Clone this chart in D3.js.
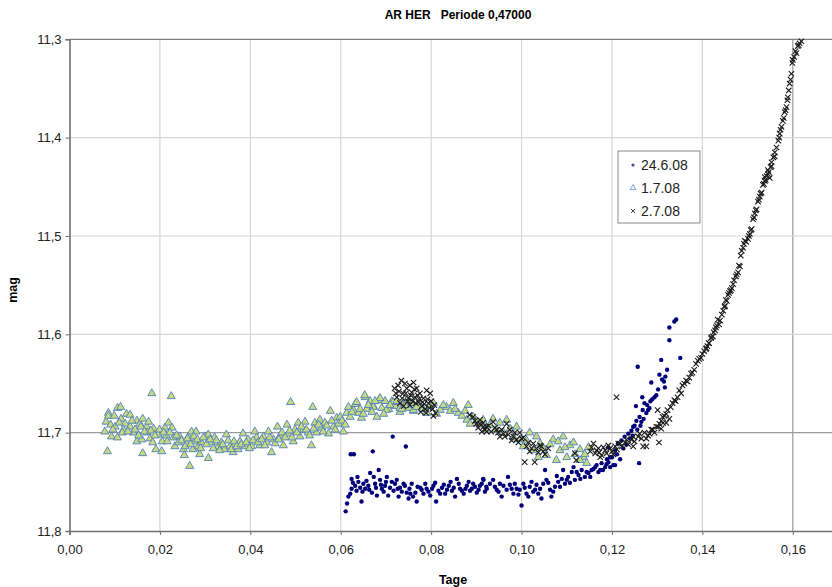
<!DOCTYPE html>
<html>
<head>
<meta charset="utf-8">
<script src="https://cdn.jsdelivr.net/npm/d3@7"></script>
<style>
  body { margin: 0; background: #fff; }
  text { font-family: "Liberation Sans", Arial, sans-serif; }
</style>
</head>
<body>
<svg id="chart" width="832" height="587"></svg>
<script>
// series 24.6.08  [Tage, mag]
const s246 = [
  [.0611,11.780],[.0614,11.772],[.0617,11.765],[.0621,11.762],[.0624,11.757],[.0624,11.747],[.0622,11.722],[.0629,11.722],
  [.0632,11.754],[.0635,11.759],[.0639,11.750],[.0643,11.756],[.0646,11.770],[.0650,11.752],[.0654,11.757],[.0661,11.754],
  [.0665,11.741],[.0669,11.761],[.0671,11.719],[.0676,11.752],[.0680,11.764],[.0684,11.738],[.0687,11.748],[.0691,11.757],
  [.0698,11.754],[.0702,11.745],[.0705,11.764],[.0713,11.750],[.0715,11.704],[.0717,11.759],[.0724,11.748],[.0728,11.765],
  [.0731,11.756],[.0739,11.752],[.0744,11.714],[.0746,11.761],[.0750,11.767],[.0754,11.762],[.0757,11.752],[.0765,11.761],
  [.0768,11.770],[.0776,11.756],[.0783,11.762],[.0790,11.757],[.0798,11.764],[.0805,11.754],[.0811,11.770],[.0816,11.759],
  [.0824,11.756],[.0831,11.762],[.0839,11.754],[.0846,11.759],[.0853,11.765],[.0857,11.747],[.0864,11.757],[.0872,11.762],
  [.0879,11.754],[.0886,11.759],[.0893,11.752],[.0901,11.761],[.0908,11.754],[.0916,11.748],[.0923,11.757],
  [.0915,11.747],[.0922,11.755],[.0937,11.748],[.0945,11.758],[.0952,11.752],[.0956,11.765],[.0967,11.758],[.0970,11.745],
  [.0974,11.753],[.0982,11.762],[.0989,11.757],[.0996,11.758],[.1000,11.774],[.1004,11.752],[.1011,11.762],[.1018,11.755],
  [.1026,11.760],[.1033,11.753],[.1041,11.757],[.1044,11.767],[.1052,11.738],[.1055,11.748],[.1063,11.758],[.1066,11.765],
  [.1074,11.755],[.1081,11.750],[.1089,11.747],[.1096,11.752],[.1103,11.745],[.1111,11.740],[.1118,11.748],[.1126,11.743],
  [.1133,11.738],[.1140,11.745],[.1148,11.741],[.1155,11.738],[.1163,11.735],[.1170,11.740],[.1177,11.731],[.1185,11.735],
  [.1192,11.730],[.1200,11.725],[.1207,11.733],[.1115,11.735],[.1092,11.738],
  [.1180,11.738],[.1188,11.732],[.1196,11.725],[.1203,11.733],[.1192,11.715],[.1207,11.718],[.1213,11.711],[.1221,11.708],
  [.1228,11.704],[.1236,11.701],[.1243,11.698],[.1247,11.694],[.1250,11.693],[.1254,11.688],[.1260,11.731],[.1257,11.633],
  [.1261,11.684],[.1265,11.689],[.1268,11.677],[.1272,11.670],[.1253,11.673],[.1267,11.664],[.1276,11.680],[.1280,11.677],
  [.1283,11.675],[.1287,11.649],[.1289,11.666],[.1294,11.664],[.1298,11.662],[.1302,11.656],[.1305,11.641],[.1309,11.626],
  [.1311,11.646],[.1315,11.648],[.1317,11.654],[.1318,11.643],[.1322,11.636],[.1327,11.606],[.1327,11.593],[.1338,11.587],
  [.1342,11.585],[.1351,11.624],
  [.0627,11.751],[.0637,11.745],[.0648,11.760],[.0657,11.749],[.0663,11.758],[.0673,11.745],[.0678,11.756],[.0689,11.753],
  [.0695,11.760],[.0700,11.750],[.0709,11.756],[.0720,11.752],[.0726,11.757],[.0735,11.760],[.0742,11.754],[.0752,11.757],
  [.0760,11.765],[.0770,11.755],[.0779,11.758],[.0787,11.752],[.0794,11.760],[.0802,11.757],[.0809,11.751],[.0820,11.762],
  [.0828,11.753],[.0835,11.758],[.0843,11.750],[.0850,11.756],[.0861,11.752],[.0868,11.759],[.0876,11.757],[.0883,11.750],
  [.0890,11.757],[.0897,11.755],[.0905,11.758],[.0912,11.752],[.0919,11.760],[.0930,11.752],[.0941,11.755],[.0949,11.760],
  [.0960,11.754],[.0978,11.757],[.0985,11.752],[.0993,11.763],[.1007,11.756],[.1015,11.765],[.1022,11.750],[.1030,11.758],
  [.1037,11.762],[.1048,11.752],[.1059,11.751],[.1070,11.760],[.1078,11.744],[.1085,11.755],[.1100,11.748],[.1107,11.751],
  [.1122,11.740],[.1130,11.747],[.1144,11.740],[.1152,11.745],[.1159,11.737],[.1166,11.733],[.1174,11.738],[.1189,11.727],
  [.1196,11.735],[.1211,11.722],[.1218,11.727],[.1225,11.716],[.1232,11.712],[.1240,11.706],[.1246,11.703],[.1256,11.697],
  [.1263,11.693],[.1270,11.686],[.1278,11.672],[.1285,11.668]
];

// series 1.7.08
const s17 = [
  [.0081,11.689],[.0078,11.699],[.0084,11.719],[.0086,11.680],[.0086,11.683],[.0091,11.692],[.0093,11.704],[.0099,11.683],
  [.0101,11.694],[.0106,11.675],[.0106,11.705],[.0113,11.674],[.0114,11.686],[.0119,11.697],[.0123,11.691],[.0126,11.681],
  [.0134,11.682],[.0134,11.694],[.0141,11.700],[.0149,11.709],[.0149,11.688],[.0156,11.691],[.0160,11.707],[.0162,11.721],
  [.0162,11.686],[.0171,11.694],[.0172,11.700],[.0182,11.660],[.0178,11.706],[.0184,11.710],[.0186,11.696],[.0191,11.717],
  [.0196,11.702],[.0204,11.719],[.0205,11.709],[.0211,11.695],[.0214,11.703],[.0219,11.690],[.0225,11.663],[.0227,11.695],
  [.0230,11.705],[.0233,11.714],[.0241,11.710],[.0244,11.704],[.0252,11.717],[.0254,11.723],[.0259,11.711],[.0263,11.704],
  [.0266,11.734],[.0270,11.699],[.0273,11.717],[.0277,11.709],[.0280,11.699],[.0285,11.714],[.0288,11.722],[.0292,11.710],
  [.0300,11.704],[.0307,11.726],[.0307,11.702],[.0314,11.710],[.0321,11.705],[.0329,11.714],[.0336,11.710],[.0343,11.717],
  [.0347,11.702],[.0355,11.714],[.0362,11.720],[.0366,11.712],[.0373,11.717],[.0377,11.709],[.0384,11.701],[.0388,11.714],
  [.0395,11.707],[.0403,11.714],[.0410,11.699],[.0414,11.705],[.0421,11.713],[.0429,11.704],[.0436,11.710],[.0440,11.699],
  [.0447,11.720],[.0451,11.707],[.0460,11.694],[.0466,11.703],[.0473,11.713],[.0481,11.692],[.0484,11.701],[.0489,11.669],
  [.0495,11.709],[.0499,11.697],[.0506,11.690],[.0510,11.704],[.0517,11.697],[.0521,11.689],[.0528,11.700],[.0535,11.713],
  [.0538,11.674],[.0543,11.690],[.0547,11.700],[.0554,11.687],[.0558,11.695],[.0565,11.690],[.0573,11.701],[.0577,11.678],
  [.0584,11.694],[.0591,11.685],[.0599,11.684],[.0606,11.699],[.0613,11.680],[.0617,11.674],[.0628,11.677],[.0632,11.671],
  [.0639,11.680],[.0646,11.685],[.0654,11.664],[.0658,11.676],[.0665,11.668],[.0672,11.673],[.0680,11.684],[.0684,11.667],
  [.0691,11.675],[.0698,11.668],[.0706,11.676],[.0713,11.668],[.0720,11.673],[.0731,11.679],[.0739,11.670],[.0750,11.675],
  [.0761,11.678],[.0635,11.669],[.0653,11.662],[.0672,11.674],[.0687,11.665],[.0701,11.677],[.0716,11.669],[.0731,11.675],
  [.0746,11.667],[.0761,11.677],[.0775,11.672],[.0790,11.680],[.0805,11.670],[.0820,11.677],[.0834,11.674],[.0849,11.670],
  [.0860,11.680],[.0882,11.672],[.0879,11.687],[.0893,11.684],[.0908,11.692],[.0923,11.697],
  [.0937,11.686],[.0952,11.690],[.0967,11.687],[.0989,11.694],[.0996,11.707],[.1018,11.700],[.1041,11.711],[.1037,11.725],
  [.1070,11.707],[.1092,11.704],[.1085,11.718],[.1107,11.713],[.1115,11.710],[.1129,11.717],[.1137,11.725],[.1144,11.731],
  [.1148,11.715],[.1100,11.725],[.1077,11.728],[.1055,11.723],[.1026,11.718],[.1004,11.714],[.0982,11.705],[.0915,11.687],
  [.1129,11.728],
  [.0096,11.697],[.0110,11.690],[.0117,11.700],[.0129,11.699],[.0138,11.688],[.0145,11.697],[.0153,11.703],[.0158,11.694],
  [.0166,11.699],[.0175,11.689],[.0180,11.698],[.0189,11.703],[.0199,11.697],[.0208,11.700],[.0216,11.709],[.0222,11.700],
  [.0237,11.703],[.0248,11.708],[.0256,11.714],[.0261,11.706],[.0268,11.712],[.0275,11.704],[.0283,11.707],[.0290,11.716],
  [.0296,11.705],[.0303,11.712],[.0311,11.707],[.0318,11.716],[.0325,11.708],[.0332,11.718],[.0339,11.712],[.0351,11.708],
  [.0358,11.717],[.0364,11.709],[.0370,11.714],[.0380,11.712],[.0391,11.710],[.0398,11.716],[.0406,11.708],[.0417,11.710],
  [.0425,11.707],[.0432,11.713],[.0443,11.705],[.0455,11.711],[.0463,11.707],[.0470,11.700],[.0477,11.705],[.0487,11.698],
  [.0492,11.705],[.0503,11.700],[.0513,11.694],[.0524,11.697],[.0531,11.703],[.0540,11.696],[.0551,11.692],[.0561,11.699],
  [.0569,11.693],[.0580,11.688],[.0588,11.697],[.0595,11.691],[.0603,11.688],[.0610,11.692],[.0621,11.684],[.0625,11.679],
  [.0643,11.676],[.0650,11.681],[.0661,11.672],[.0669,11.679],[.0676,11.668],[.0695,11.681],[.0709,11.672],[.0724,11.668],
  [.0735,11.676],[.0743,11.672],[.0757,11.670],[.0768,11.674],[.0782,11.676],[.0797,11.673],[.0812,11.681],[.0827,11.672],
  [.0842,11.678],[.0853,11.676],[.0868,11.683],[.0875,11.678],[.0886,11.691],[.0900,11.688],[.0930,11.692],[.0944,11.697],
  [.0960,11.700],[.0975,11.696],[.1011,11.708],[.1033,11.704],[.1048,11.716],[.1063,11.712],[.1081,11.709],[.1096,11.715],
  [.1118,11.722],[.1140,11.722]
];

// series 2.7.08
const s27 = [
  [.0719,11.655],[.0727,11.652],[.0734,11.647],[.0738,11.660],[.0742,11.650],[.0746,11.655],[.0750,11.665],[.0753,11.652],
  [.0757,11.659],[.0761,11.649],[.0764,11.664],[.0768,11.655],[.0772,11.669],[.0775,11.660],[.0779,11.673],[.0783,11.665],
  [.0787,11.676],[.0790,11.657],[.0794,11.670],[.0798,11.660],[.0731,11.670],[.0724,11.664],[.0739,11.673],[.0753,11.672],
  [.0722,11.660],[.0729,11.658],[.0736,11.665],[.0744,11.660],[.0748,11.668],[.0755,11.662],[.0759,11.668],[.0763,11.656],
  [.0766,11.670],[.0770,11.662],[.0774,11.666],[.0777,11.679],[.0781,11.669],[.0785,11.671],[.0789,11.680],[.0792,11.666],
  [.0796,11.675],[.0800,11.668],[.0803,11.676],[.0807,11.672],[.0810,11.680],[.0805,11.683],
  [.0893,11.684],[.0900,11.691],[.0908,11.687],[.0916,11.694],[.0923,11.699],[.0912,11.699],
  [.0908,11.691],[.0922,11.694],[.0937,11.689],[.0945,11.697],[.0960,11.701],[.0974,11.697],[.0982,11.704],[.0989,11.707],
  [.1004,11.705],[.1011,11.714],[.1007,11.730],[.1026,11.711],[.1033,11.716],[.1041,11.713],[.1029,11.730],[.1048,11.719],
  [.1018,11.719],[.0996,11.700],[.0967,11.691],[.0952,11.704],[.1121,11.728],[.1118,11.721],
  [.0885,11.682],[.0897,11.688],[.0904,11.695],[.0915,11.690],[.0919,11.697],[.0927,11.693],[.0933,11.699],[.0941,11.695],
  [.0948,11.700],[.0956,11.697],[.0963,11.704],[.0971,11.702],[.0978,11.708],[.0985,11.700],[.0993,11.710],[.1000,11.706],
  [.1015,11.710],[.1022,11.716],[.1037,11.720],[.1044,11.714],[.1052,11.722],[.1059,11.716],
  [.1155,11.715],[.1163,11.721],[.1170,11.716],[.1177,11.723],[.1185,11.718],[.1192,11.713],[.1200,11.719],[.1207,11.714],
  [.1214,11.711],[.1210,11.664],[.1159,11.711],[.1174,11.725],
  [.1152,11.719],[.1166,11.718],[.1172,11.720],[.1181,11.715],[.1188,11.721],[.1196,11.716],[.1203,11.722],[.1211,11.717],
  [.1222,11.714],[.1229,11.710],[.1236,11.712],[.1243,11.707],[.1250,11.709],[.1258,11.704],[.1265,11.706],[.1272,11.700],
  [.1280,11.703],[.1287,11.697],[.1294,11.700],[.1302,11.694],[.1309,11.696],[.1313,11.690],[.1320,11.690],[.1334,11.670],
  [.1341,11.668],[.1353,11.660],[.1360,11.650],[.1367,11.648],[.1375,11.640],[.1382,11.636],[.1390,11.627],[.1397,11.624],
  [.1404,11.617],[.1411,11.612],[.1419,11.604],
  [.1218,11.711],[.1232,11.707],[.1247,11.704],[.1261,11.701],[.1269,11.714],[.1276,11.706],[.1283,11.701],[.1290,11.697],
  [.1298,11.694],[.1304,11.710],[.1305,11.691],[.1312,11.684],[.1320,11.681],[.1327,11.686],[.1330,11.674],[.1338,11.667],
  [.1345,11.664],[.1349,11.657],[.1356,11.652],[.1364,11.647],[.1371,11.644],[.1378,11.639],[.1386,11.630],[.1393,11.625],
  [.1400,11.620],[.1408,11.615],[.1415,11.609],[.1423,11.602],[.1430,11.593],[.1434,11.585],[.1309,11.688],[.1316,11.683],
  [.1323,11.677],[.1301,11.677],[.1247,11.714],[.1276,11.714],
  [.1409,11.614],[.1420,11.603],[.1428,11.596],[.1439,11.586],[.1446,11.576],[.1454,11.566],[.1461,11.556],[.1468,11.549],
  [.1476,11.539],[.1483,11.531],[.1487,11.515],[.1494,11.505],[.1501,11.503],[.1509,11.493],[.1512,11.483],[.1520,11.473],
  [.1523,11.465],[.1531,11.456],[.1534,11.448],[.1542,11.439],[.1549,11.441],[.1553,11.429],[.1560,11.419],
  [.1414,11.609],[.1432,11.591],[.1450,11.571],[.1457,11.560],[.1465,11.553],[.1479,11.537],[.1490,11.512],[.1505,11.498],
  [.1516,11.477],[.1527,11.460],[.1538,11.444],[.1545,11.437],
  [.1425,11.598],[.1437,11.590],[.1443,11.580],[.1449,11.572],[.1452,11.565],[.1459,11.558],[.1463,11.555],[.1470,11.545],
  [.1474,11.541],[.1481,11.530],[.1485,11.520],[.1492,11.508],[.1497,11.506],[.1503,11.500],[.1507,11.494],[.1514,11.481],
  [.1518,11.474],[.1525,11.463],[.1529,11.457],[.1536,11.447],[.1540,11.443],[.1547,11.435],[.1551,11.430],[.1557,11.420],
  [.1564,11.410],[.1570,11.400],[.1573,11.392],[.1580,11.380],[.1584,11.372],[.1588,11.362],[.1591,11.352],[.1595,11.341],
  [.1603,11.318],[.1606,11.312],[.1613,11.306],
  [.1538,11.440],[.1545,11.433],[.1553,11.425],[.1560,11.415],[.1568,11.403],[.1571,11.396],[.1575,11.389],[.1578,11.383],
  [.1582,11.374],[.1586,11.369],[.1589,11.359],[.1593,11.345],[.1597,11.335],[.1599,11.324],[.1600,11.321],[.1608,11.314],
  [.1611,11.307],[.1615,11.304],[.1619,11.302]
];

const xTicks = [0, .02, .04, .06, .08, .10, .12, .14, .16];
const yTicks = [11.3, 11.4, 11.5, 11.6, 11.7, 11.8];
const seriesNames = ["24.6.08", "1.7.08", "2.7.08"];

const svg = d3.select("#chart");
const x = d3.scaleLinear().domain([0, 0.17]).range([69.5, 838]);
const y = d3.scaleLinear().domain([11.3, 11.8]).range([39.3, 531]);
const fmt = d => d3.format(".2f")(d).replace(".", ",");
const fmtY = d => d3.format(".1f")(d).replace(".", ",");

// grid
svg.append("g").selectAll("line").data(xTicks.slice(1)).join("line")
  .attr("x1", d => x(d)).attr("x2", d => x(d)).attr("y1", y(11.3)).attr("y2", y(11.8))
  .attr("stroke", d => d === .16 ? "#9a9a9a" : "#d6d6d6").attr("stroke-width", 1.2);
svg.append("g").selectAll("line").data(yTicks.slice(0, -1)).join("line")
  .attr("x1", x(0)).attr("x2", 832).attr("y1", d => y(d)).attr("y2", d => y(d))
  .attr("stroke", d => d === 11.7 ? "#9a9a9a" : (d === 11.3 ? "#808080" : "#d6d6d6")).attr("stroke-width", 1.2);

// axes
const gx = svg.append("g").attr("transform", `translate(0,${y(11.8)})`)
  .call(d3.axisBottom(x).tickValues(xTicks).tickFormat(fmt).tickSize(4).tickPadding(10));
const gy = svg.append("g").attr("transform", `translate(${x(0)},0)`)
  .call(d3.axisLeft(y).tickValues(yTicks).tickFormat(fmtY).tickSize(4).tickPadding(4));
[gx, gy].forEach(g => {
  g.select(".domain").attr("stroke", "#707070").attr("stroke-width", 1.6);
  g.selectAll(".tick line").attr("stroke", "#707070");
  g.selectAll(".tick text").attr("font-size", 13).attr("fill", "#222")
    .style("font-family", "'Liberation Sans', Arial, sans-serif");
});

// marks
svg.append("g").selectAll("circle").data(s246).join("circle")
  .attr("cx", d => x(d[0])).attr("cy", d => y(d[1])).attr("r", 2.2)
  .attr("fill", "#00007a");

const tri = d3.symbol().type(d3.symbolTriangle).size(28);
svg.append("g").selectAll("path").data(s17).join("path")
  .attr("d", tri)
  .attr("transform", d => `translate(${x(d[0])},${y(d[1])})`)
  .attr("fill", "#c6d97f").attr("stroke", "#4f81bd").attr("stroke-width", 0.9);

const cross = "M-2.7,-2.7L2.7,2.7M-2.7,2.7L2.7,-2.7";
svg.append("g").selectAll("path").data(s27).join("path")
  .attr("d", cross)
  .attr("transform", d => `translate(${x(d[0])},${y(d[1])})`)
  .attr("stroke", "#1a1a1a").attr("stroke-width", 1.1).attr("fill", "none");

// titles
svg.append("text").attr("x", 458).attr("y", 19).attr("text-anchor", "middle")
  .attr("font-size", 12).attr("font-weight", "bold").attr("xml:space", "preserve")
  .text("AR HER   Periode 0,47000");
svg.append("text").attr("x", 453).attr("y", 584).attr("text-anchor", "middle")
  .attr("font-size", 12.5).attr("font-weight", "bold").text("Tage");
svg.append("text").attr("transform", "translate(17,290) rotate(-90)").attr("text-anchor", "middle")
  .attr("font-size", 12.5).attr("font-weight", "bold").text("mag");

// legend
const lg = svg.append("g").attr("transform", "translate(618,151)");
lg.append("rect").attr("width", 82).attr("height", 72).attr("fill", "#fff")
  .attr("stroke", "#8a8a8a").attr("stroke-width", 1);
const rows = lg.selectAll("g").data(seriesNames).join("g")
  .attr("transform", (d, i) => `translate(0,${14 + i * 23})`);
rows.append("text").attr("x", 23).attr("y", 5).attr("font-size", 14).attr("fill", "#222").text(d => d);
rows.filter((d, i) => i === 0).append("circle").attr("cx", 15).attr("cy", 0).attr("r", 1.6).attr("fill", "#4a4aa0");
rows.filter((d, i) => i === 1).append("path").attr("d", d3.symbol().type(d3.symbolTriangle).size(14))
  .attr("transform", "translate(15,0)").attr("fill", "#fff").attr("stroke", "#5b8ad0").attr("stroke-width", 0.8);
rows.filter((d, i) => i === 2).append("path").attr("d", "M-2,-2L2,2M-2,2L2,-2")
  .attr("transform", "translate(15,0)").attr("stroke", "#333").attr("stroke-width", 0.9);
</script>
</body>
</html>
